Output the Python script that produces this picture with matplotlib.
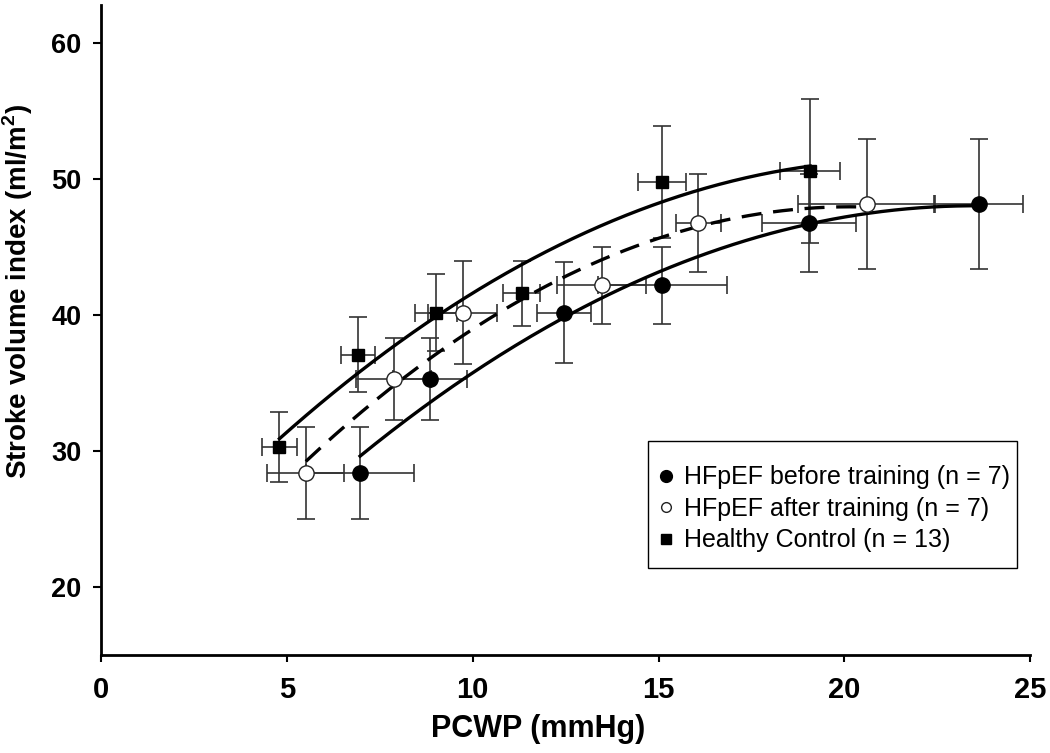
import numpy as np
import matplotlib
matplotlib.use("Agg")
import matplotlib.pyplot as plt
from matplotlib.lines import Line2D
from matplotlib.patches import Rectangle

# PCWP (mmHg) and stroke volume index (ml/m2)
before_x = [6.97, 8.85, 12.46, 15.10, 19.04, 23.61]
before_y = [28.4, 35.3, 40.2, 42.2, 46.8, 48.2]
before_xerr = [1.45, 1.0, 0.72, 1.73, 1.26, 1.2]
before_yerr = [3.4, 3.0, 3.7, 2.85, 3.6, 4.8]

after_x = [5.51, 7.87, 9.73, 13.47, 16.07, 20.60]
after_y = [28.4, 35.3, 40.2, 42.2, 46.8, 48.2]
after_xerr = [1.04, 1.0, 0.92, 1.2, 0.6, 1.85]
after_yerr = [3.4, 3.0, 3.8, 2.85, 3.6, 4.8]

control_x = [4.80, 6.92, 9.01, 11.32, 15.10, 19.08]
control_y = [30.3, 37.1, 40.2, 41.6, 49.8, 50.6]
control_xerr = [0.48, 0.46, 0.56, 0.5, 0.64, 0.8]
control_yerr = [2.6, 2.77, 2.8, 2.4, 4.15, 5.3]

x_ticks = [0, 5, 10, 15, 20, 25]
y_ticks = [20, 30, 40, 50, 60]

plt.rcParams['font.family'] = ['Liberation Sans', 'DejaVu Sans']

fig = plt.figure(figsize=(10.5, 7.53), dpi=100)
ax = fig.add_axes([0.0962, 0.130, 0.885, 0.863])

err_kw = dict(fmt='none', ecolor='#333333', elinewidth=1.2, capsize=6.5,
              capthick=1.2, zorder=2)


def fit_curve(x, y):
    # second order fit, like the trend lines in the figure
    coef = np.polyfit(x, y, 2)
    xs = np.linspace(min(x), max(x), 200)
    return xs, np.polyval(coef, xs)


series = [
    (control_x, control_y, control_xerr, control_yerr, '-'),
    (before_x, before_y, before_xerr, before_yerr, '-'),
    (after_x, after_y, after_xerr, after_yerr, (0, (6, 3.5))),
]
for x, y, xe, ye, ls in series:
    ax.errorbar(x, y, xerr=xe, yerr=ye, **err_kw)
    xs, ys = fit_curve(x, y)
    ax.plot(xs, ys, color='black', lw=2.4, ls=ls, zorder=3)

ax.plot(before_x, before_y, 'o', color='black', ms=11, zorder=4)
ax.plot(after_x, after_y, 'o', mfc='white', mec='#222222', mew=1.0, ms=11, zorder=4)
ax.plot(control_x, control_y, 's', color='black', ms=8, zorder=4)

ax.set_xlim(0, 25)
ax.set_ylim(15, 62.8)
ax.set_xticks(x_ticks)
ax.set_yticks(y_ticks)
ax.spines['top'].set_visible(False)
ax.spines['right'].set_visible(False)
for s in ['left', 'bottom']:
    ax.spines[s].set_linewidth(2.0)
ax.tick_params(axis='x', direction='out', length=5, width=1.5, pad=10)
ax.tick_params(axis='y', direction='out', length=6, width=1.5, pad=8)
for lab in ax.get_xticklabels():
    lab.set_fontsize(21)
    lab.set_fontweight('bold')
for lab in ax.get_yticklabels():
    lab.set_fontsize(19.5)
    lab.set_fontweight('bold')

ax.set_xlabel("PCWP (mmHg)", fontsize=22, fontweight='bold')
ax.xaxis.set_label_coords(0.470, -0.091)
ax.set_ylabel("Stroke volume index (ml/m$^\\mathregular{2}$)", fontsize=20,
              fontweight='bold')
ax.yaxis.set_label_coords(-0.071, 0.56)

# legend box: text sits close to the right border, more room above/below
ax.add_patch(Rectangle((0.589, 0.134), 0.397, 0.195, transform=ax.transAxes,
                       fill=True, facecolor='white', edgecolor='black',
                       lw=1.0, zorder=5))
handles = [
    Line2D([], [], ls='none', marker='o', color='black', ms=8.5),
    Line2D([], [], ls='none', marker='o', mfc='white', mec='#222222', ms=7),
    Line2D([], [], ls='none', marker='s', color='black', ms=6.5),
]
labels = ["HFpEF before training (n = 7)",
          "HFpEF after training (n = 7)",
          "Healthy Control (n = 13)"]
leg = ax.legend(handles, labels, loc='upper right', bbox_to_anchor=(0.9785, 0.292),
                frameon=False, fontsize=18, handlelength=0.5,
                handletextpad=0.5, borderpad=0, borderaxespad=0,
                labelspacing=0.3)
leg.set_zorder(6)

fig.savefig("out.png", dpi=100)
